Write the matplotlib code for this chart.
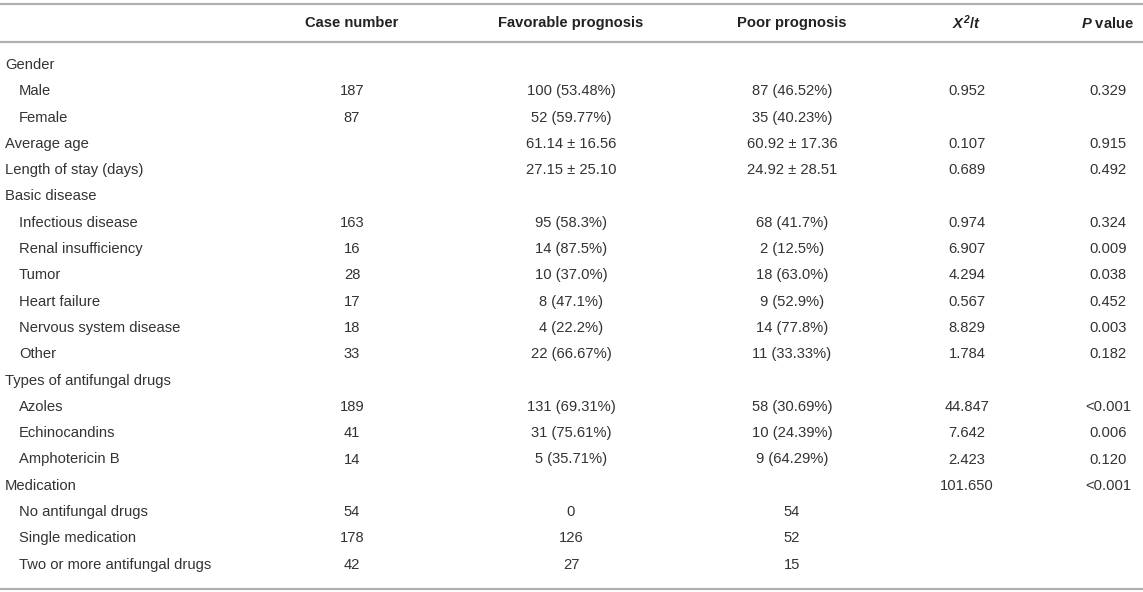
import matplotlib
matplotlib.use("Agg")
from matplotlib import pyplot as plt

# column headers
headers = ["Case number", "Favorable prognosis", "Poor prognosis", "$\\mathit{X}^\\mathbf{2}$/$\\mathit{t}$", "$\\mathit{P}$ value"]

# row labels and whether indented
labels = ["Gender", "Male", "Female", "Average age", "Length of stay (days)",
          "Basic disease", "Infectious disease", "Renal insufficiency", "Tumor",
          "Heart failure", "Nervous system disease", "Other",
          "Types of antifungal drugs", "Azoles", "Echinocandins", "Amphotericin B",
          "Medication", "No antifungal drugs", "Single medication",
          "Two or more antifungal drugs"]
indent = [0, 1, 1, 0, 0, 0, 1, 1, 1, 1, 1, 1, 0, 1, 1, 1, 0, 1, 1, 1]

case_number = ["", "187", "87", "", "", "", "163", "16", "28", "17", "18", "33",
               "", "189", "41", "14", "", "54", "178", "42"]
favorable = ["", "100 (53.48%)", "52 (59.77%)", "61.14 ± 16.56", "27.15 ± 25.10",
             "", "95 (58.3%)", "14 (87.5%)", "10 (37.0%)", "8 (47.1%)", "4 (22.2%)",
             "22 (66.67%)", "", "131 (69.31%)", "31 (75.61%)", "5 (35.71%)", "",
             "0", "126", "27"]
poor = ["", "87 (46.52%)", "35 (40.23%)", "60.92 ± 17.36", "24.92 ± 28.51",
        "", "68 (41.7%)", "2 (12.5%)", "18 (63.0%)", "9 (52.9%)", "14 (77.8%)",
        "11 (33.33%)", "", "58 (30.69%)", "10 (24.39%)", "9 (64.29%)", "",
        "54", "52", "15"]
stat = ["", "0.952", "", "0.107", "0.689", "", "0.974", "6.907", "4.294", "0.567",
        "8.829", "1.784", "", "44.847", "7.642", "2.423", "101.650", "", "", ""]
p_value = ["", "0.329", "", "0.915", "0.492", "", "0.324", "0.009", "0.038", "0.452",
           "0.003", "0.182", "", "<0.001", "0.006", "0.120", "<0.001", "", "", ""]

plt.rcParams['font.family'] = ['Liberation Sans', 'DejaVu Sans']
plt.rcParams['mathtext.fontset'] = 'custom'
plt.rcParams['mathtext.it'] = 'Liberation Sans:italic:bold'
plt.rcParams['mathtext.bf'] = 'Liberation Sans:italic:bold'
plt.rcParams['mathtext.rm'] = 'Liberation Sans:bold'

W, H = 1143, 592
fig = plt.figure(figsize=(W / 100, H / 100), dpi=100)
ax = fig.add_axes([0, 0, 1, 1])
ax.set_xlim(0, W)
ax.set_ylim(H, 0)
ax.axis('off')

col_x = [352, 571, 792, 967, 1108]
fs = 10.6
txt = '#333333'
line_c = '#b0b0b0'

# rules
for y in [3.5, 42, 589]:
    ax.plot([0, W], [y, y], color=line_c, lw=1.6, solid_capstyle='butt')

for x, h in zip(col_x, headers):
    ax.text(x, 23, h, ha='center', va='center', fontsize=fs, fontweight='bold', color='#222222')

y0, dy = 65, 26.3
for i, lab in enumerate(labels):
    y = y0 + i * dy
    ax.text(5 + 14 * indent[i], y, lab, ha='left', va='center', fontsize=fs, color=txt)
    for x, col in zip(col_x, [case_number, favorable, poor, stat, p_value]):
        if col[i]:
            ax.text(x, y, col[i], ha='center', va='center', fontsize=fs, color=txt)

fig.savefig('out.png', dpi=100)
